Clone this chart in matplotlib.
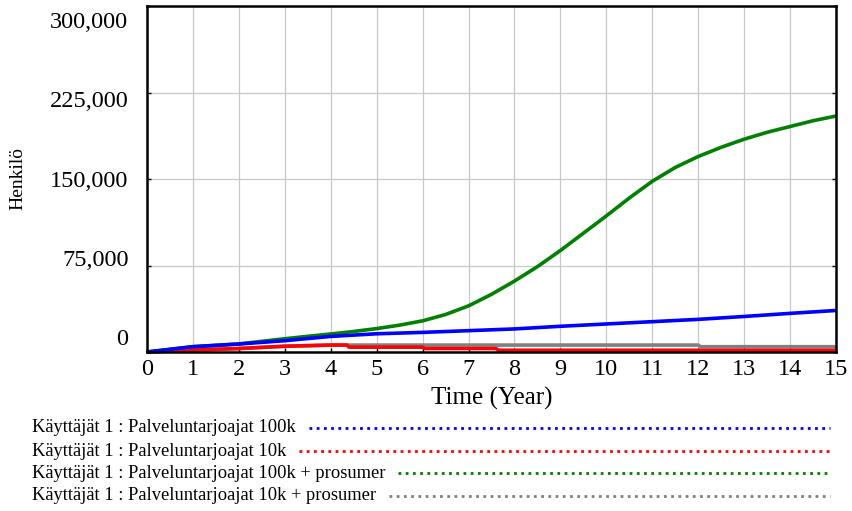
import matplotlib
matplotlib.use("Agg")
import matplotlib.pyplot as plt
import numpy as np

# ---- data ----
years = [0, 1, 2, 3, 4, 5, 6, 7, 8, 9, 10, 11, 12, 13, 14, 15]
blue_100k = [0, 4600, 6900, 9800, 13500, 15800, 17000, 18500, 20000, 22300,
             24300, 26300, 28300, 30800, 33500, 36000]

green_t = [0, 1, 2, 3, 3.5, 4, 4.5, 5, 5.5, 6, 6.5, 7, 7.5, 8, 8.5, 9, 9.5,
           10, 10.5, 11, 11.5, 12, 12.5, 13, 13.5, 14, 14.5, 15]
green_100k_pros = [0, 4600, 7000, 11500, 13600, 15600, 17800, 20300, 23300,
                   27000, 32500, 40000, 50000, 61500, 74000, 88000, 103000,
                   118000, 133500, 148000, 160000, 169500, 177500, 184500,
                   190500, 195500, 200500, 204600]

red_t = [0, 1, 2, 3, 4, 4.35, 4.4, 6.0, 6.05, 7.6, 7.65, 15]
red_10k = [0, 1700, 3000, 5000, 6000, 6000, 4200, 4200, 3000, 3000, 1500, 1500]

gray_t = [0, 1, 2, 3, 4, 4.35, 12.0, 12.05, 15]
gray_10k_pros = [0, 1700, 3000, 5000, 6000, 6000, 6000, 4600, 4600]

ytick_values = [0, 75000, 150000, 225000, 300000]
ytick_labels = ["0", "75,000", "150,000", "225,000", "300,000"]
xtick_values = list(range(0, 16))

legend_labels = [
    "Käyttäjät 1 : Palveluntarjoajat 100k",
    "Käyttäjät 1 : Palveluntarjoajat 10k",
    "Käyttäjät 1 : Palveluntarjoajat 100k + prosumer",
    "Käyttäjät 1 : Palveluntarjoajat 10k + prosumer",
]
colors = ["#0000ff", "#ff0000", "#008000", "#808080"]

# ---- figure ----
W, H = 853, 511
fig = plt.figure(figsize=(W / 100, H / 100), dpi=100)
serif = "Liberation Serif"
plt.rcParams["font.family"] = serif

ax = fig.add_axes([147 / W, 1 - 352 / H, (836 - 147) / W, (352 - 6) / H])
ax.set_xlim(0, 15)
ax.set_ylim(0, 300000)

ax.set_xticks(xtick_values)
ax.set_xticklabels([str(v) for v in xtick_values], fontsize=17.5)
ax.set_yticks(ytick_values)
ax.set_yticklabels([])
ax.tick_params(axis="both", direction="in", length=3, width=1, colors="black",
               pad=5)
ax.tick_params(axis="y", right=True)
ax.grid(True, color="#c8c8c8", linewidth=0.9)
ax.set_axisbelow(True)
for s in ax.spines.values():
    s.set_linewidth(1.8)
    s.set_color("black")

# y tick labels, spread as in reference
label_fracs = np.linspace(0.035, 0.952, len(ytick_labels))
for lab, fy in zip(ytick_labels, label_fracs):
    ax.text(-0.027, fy, lab, transform=ax.transAxes, ha="right", va="center",
            fontsize=17.5)

lw = 2.6
ax.plot(gray_t, gray_10k_pros, color=colors[3], lw=lw, solid_capstyle="butt", clip_on=False)
ax.plot(green_t, green_100k_pros, color=colors[2], lw=lw, solid_capstyle="butt", clip_on=False)
ax.plot(red_t, red_10k, color=colors[1], lw=lw, solid_capstyle="butt", clip_on=False)
ax.plot(years, blue_100k, color=colors[0], lw=lw, solid_capstyle="butt", clip_on=False)

ax.set_xlabel("Time (Year)", fontsize=18, labelpad=5)
fig.text(18 / W, 1 - 178 / H, "Henkilö", rotation=90, ha="center",
         va="center", fontsize=14)

# legend rows
ys = [428, 451, 473, 496]
fig.canvas.draw()
renderer = fig.canvas.get_renderer()
for lab, c, yp in zip(legend_labels, colors, ys):
    t = fig.text(32 / W, 1 - yp / H, lab, ha="left", va="center", fontsize=13.3)
    bb = t.get_window_extent(renderer=renderer)
    x0 = bb.x1 + 13
    fig.add_artist(plt.Line2D([x0 / W, 830 / W], [1 - yp / H, 1 - yp / H],
                              transform=fig.transFigure, color=c, lw=2.0,
                              linestyle=(0, (1.0, 1.6))))

fig.savefig("out.png", dpi=100)
